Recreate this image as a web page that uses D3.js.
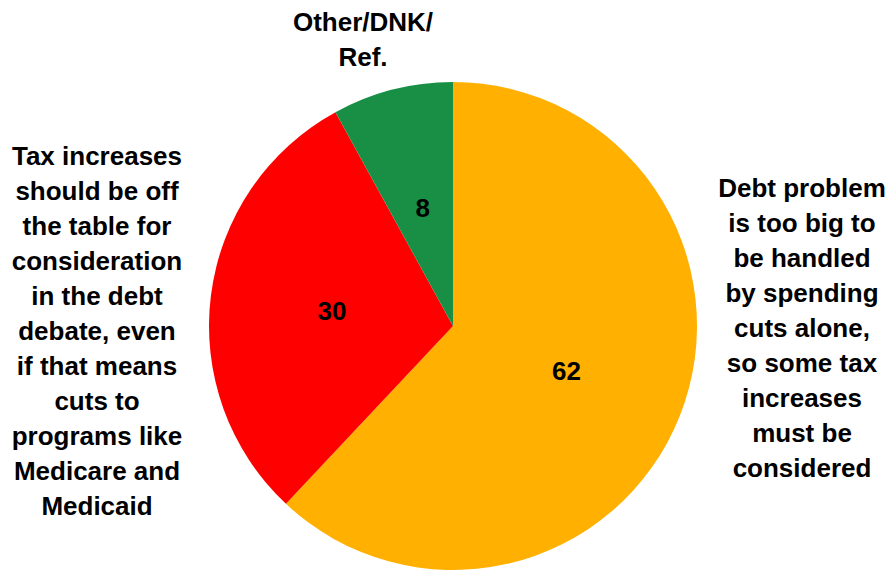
<!DOCTYPE html>
<html>
<head>
<meta charset="utf-8">
<script src="https://cdn.jsdelivr.net/npm/d3@7"></script>
<style>
	body { margin: 0; background: #fff; }
	svg { display: block; }
</style>
</head>
<body>
<svg id="chart" width="890" height="570"></svg>
<script>

var categories = ["Debt problem too big", "Tax increases off the table", "Other/DNK/Ref."];
var values = [62, 30, 8];
var colors = ["#FFB000", "#FF0000", "#188F45"];

// the category texts, line by line, as they are broken in the picture
var labelLines = [
	["Debt problem", "is too big to", "be handled", "by spending", "cuts alone,", "so some tax", "increases", "must be", "considered"],
	["Tax increases", "should be off", "the table for", "consideration", "in the debt", "debate, even", "if that means", "cuts to", "programs like", "Medicare and", "Medicaid"],
	["Other/DNK/", "Ref."]
];

var svg = d3.select("#chart");
var width = +svg.attr("width");
var height = +svg.attr("height");

var center = [453, 326];
var radius = 244;
var lineHeight = 35;
var font = "'Liberation Sans', Arial, sans-serif";

// where each block of category text sits (x centre, y centre of first line)
var labelAnchors = [[802, 188], [97, 156], [363, 22]];

var pie = d3.pie()
	.sort(null)
	.value(d => d);

var arc = d3.arc()
	.innerRadius(0)
	.outerRadius(radius);

var g = svg.append("g")
	.attr("transform", "translate(" + center[0] + "," + center[1] + ")");

var arcs = pie(values);

g.selectAll("path")
	.data(arcs)
	.enter()
	.append("path")
	.attr("d", arc)
	.attr("fill", (_, i) => colors[i]);

//value labels sit halfway out along each slice
g.selectAll("text.value")
	.data(arcs)
	.enter()
	.append("text")
	.attr("class", "value")
	.attr("transform", d => "translate(" + arc.centroid(d) + ")")
	.attr("text-anchor", "middle")
	.attr("dominant-baseline", "central")
	.attr("font-family", font)
	.attr("font-weight", "bold")
	.attr("font-size", "26px")
	.attr("fill", "#000")
	.text(d => d.value);

var labels = svg.selectAll("text.category")
	.data(labelLines)
	.enter()
	.append("text")
	.attr("class", "category")
	.attr("text-anchor", "middle")
	.attr("font-family", font)
	.attr("font-weight", "bold")
	.attr("font-size", "26px")
	.attr("fill", "#000");

labels.selectAll("tspan")
	.data((d, i) => d.map((line, j) => ({ line: line, x: labelAnchors[i][0], y: labelAnchors[i][1] + j * lineHeight })))
	.enter()
	.append("tspan")
	.attr("x", d => d.x)
	.attr("y", d => d.y)
	.attr("dominant-baseline", "central")
	.text(d => d.line);

</script>
</body>
</html>
